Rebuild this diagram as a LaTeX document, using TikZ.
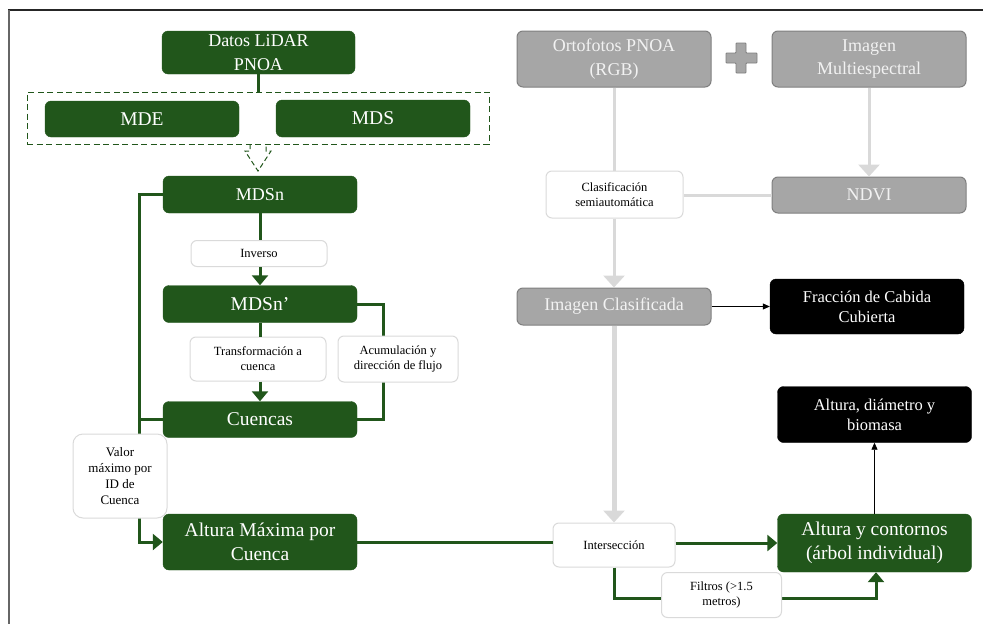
\documentclass[tikz,border=0pt]{standalone}
\usepackage{fontspec}
\setmainfont{Liberation Serif}
\newfontfamily\tnr{Liberation Serif}
\usetikzlibrary{arrows.meta}
\definecolor{dkgreen}{HTML}{21561B}
\definecolor{boxgray}{HTML}{A6A6A6}
\definecolor{boxgrayb}{HTML}{7F7F7F}
\definecolor{lgray}{HTML}{D9D9D9}
\definecolor{lblb}{HTML}{DADADA}
\tikzset{
  base/.style={rectangle, rounded corners=6pt, align=center, inner sep=0pt},
  greenbox/.style={base, fill=dkgreen, draw=dkgreen, text=white},
  graybox/.style={base, fill=boxgray, draw=boxgrayb, line width=1pt, text=white!95!black},
  blackbox/.style={base, fill=black, draw=black, text=white},
  lblbox/.style={base, fill=white, draw=lblb, line width=1pt, text=black, font=\tnr\fontsize{12.5}{15}\selectfont},
  big/.style={font=\tnr\fontsize{18}{23.5}\selectfont},
  bigger/.style={font=\tnr\fontsize{19.5}{24}\selectfont},
  mid/.style={font=\tnr\fontsize{16.5}{20}\selectfont},
  sz/.style 2 args={minimum width=#1pt, minimum height=#2pt},
  gline/.style={draw=dkgreen, line width=3pt},
  garrow/.style={gline, -{Triangle[width=16pt,length=10pt]}},
  grline/.style={draw=lgray, line width=3pt},
  grarrow/.style={grline, -{Triangle[width=21pt,length=12pt]}},
  barrow/.style={draw=black, line width=0.8pt, -{Triangle[width=6pt,length=7pt]}},
}
\begin{document}
\begin{tikzpicture}[x=1pt,y=-1pt]
\useasboundingbox (0,0) rectangle (983,624);
% frame
\draw[black!85, line width=1.3pt] (8,10) -- (983,10);
\draw[black!60, line width=2pt] (8.5,10) -- (8.5,624);

% ---------- left column (LiDAR) ----------
\node[greenbox, big, sz={193}{43}] (datos) at (258.5,52.5) {Datos LiDAR\\PNOA};
\node[draw=dkgreen, line width=1pt, dash pattern=on 6pt off 3.5pt, rectangle, minimum width=462pt, minimum height=52pt, inner sep=0pt] (dashbox) at (258,118) {};
\node[greenbox, bigger, sz={194}{36}] (mde) at (142,119) {MDE};
\node[greenbox, bigger, sz={194}{37}] (mds) at (373,118.5) {MDS};
\draw[gline] (datos.south) -- (datos.south |- dashbox.north);
% hollow dashed arrow
\draw[draw=dkgreen, line width=1pt, dash pattern=on 5pt off 3pt]
  (250,144) -- (250,151) -- (245,151) -- (258,171) -- (271,151) -- (266,151) -- (266,144);

\node[greenbox, big, sz={194}{37}] (mdsn) at (260,194.5) {MDSn};
\node[lblbox, sz={136}{26}] (inverso) at (259,253.5) {Inverso};
\node[greenbox, bigger, sz={194}{37}] (mdsnp) at (260,304) {MDSn’};
\node[greenbox, bigger, sz={194}{36}] (cuencas) at (260,419.5) {Cuencas};
\node[greenbox, bigger, sz={194}{56}] (altmax) at (260,542) {Altura Máxima por\\Cuenca};

\coordinate (rc1) at (383,304);
\coordinate (lc2) at (139,419.5);
\draw[gline] (mdsn.south) -- (mdsn.south |- inverso.north);
\draw[garrow] (mdsn.south |- inverso.south) -- (mdsnp.north);
\draw[gline] (mdsnp.east) -- (rc1) |- (cuencas.east);
\draw[gline] (mdsn.west) -| (lc2);
\draw[garrow] (cuencas.west) -- (lc2) |- (altmax.west);

\node[lblbox, sz={136}{44}] (transf) at (258,359) {Transformación a\\cuenca};
\draw[gline] (mdsnp.south) -- (mdsnp.south |- transf.north);
\draw[garrow] (mdsnp.south |- transf.south) -- (cuencas.north);
\node[lblbox, sz={120}{46}] (acum) at (398,359) {Acumulación y\\dirección de flujo};
\node[lblbox, rounded corners=10pt, sz={94}{84}, font=\tnr\fontsize{13}{15.7}\selectfont] (valor) at (120,476) {Valor\\máximo por\\ID de\\Cuenca};

% ---------- right column (images) ----------
\node[graybox, big, sz={194}{56}] (orto) at (614,59) {Ortofotos PNOA\\(RGB)};
\node[graybox, big, sz={194}{56}] (multi) at (869,59) {Imagen\\Multiespectral};
\node[graybox, big, sz={194}{36}] (ndvi) at (869,195) {NDVI};
\node[graybox, big, sz={194}{37}] (imgclas) at (614,306.5) {Imagen Clasificada};
\node[blackbox, mid, sz={194}{55}] (fracc) at (867,306.5) {Fracción de Cabida\\Cubierta};
\node[blackbox, mid, sz={194}{56}] (altdiam) at (874.5,414.5) {Altura, diámetro y\\biomasa};
\node[greenbox, bigger, sz={194}{58}] (altcont) at (874.5,543) {Altura y contornos\\(árbol individual)};

% plus sign
\draw[fill=boxgray, draw=boxgrayb, line width=0.8pt, rounded corners=0.8pt]
  (736,43) -- (746,43) -- (746,53) -- (757,53) -- (757,63) -- (746,63) -- (746,73)
  -- (736,73) -- (736,63) -- (726,63) -- (726,53) -- (736,53) -- cycle;

\draw[grarrow] (multi.south) -- (ndvi.north);
\node[lblbox, sz={137}{47}] (clasif) at (614.5,194.5) {Clasificación\\semiautomática};
\draw[grline] (orto.south) -- (orto.south |- clasif.north);
\draw[grarrow] (orto.south |- clasif.south) -- (imgclas.north);
\draw[grline] (ndvi.west) -- (clasif.east |- ndvi.west);
\draw[barrow] (imgclas.east) -- (fracc.west |- imgclas.east);

\node[lblbox, sz={122}{44}] (inter) at (614,545) {Intersección};
\draw[grline, line width=5pt, -{Triangle[width=21pt,length=12pt]}] (imgclas.south) -- (imgclas.south |- inter.north);
\draw[gline] (altmax.east) -- (inter.west |- altmax.east);
\draw[garrow] (inter.east |- altcont.west) -- (altcont.west);
\coordinate (fl) at (614,598);
\coordinate (fr) at (876,598);
\draw[garrow] (inter.south) -- (fl) -- (fr) -- (fr |- altcont.south);
\node[lblbox, sz={120}{45}] (filtros) at (721.5,595) {Filtros (>1.5\\metros)};
\draw[barrow] (altcont.north) -- (altcont.north |- altdiam.south);
\end{tikzpicture}
\end{document}
